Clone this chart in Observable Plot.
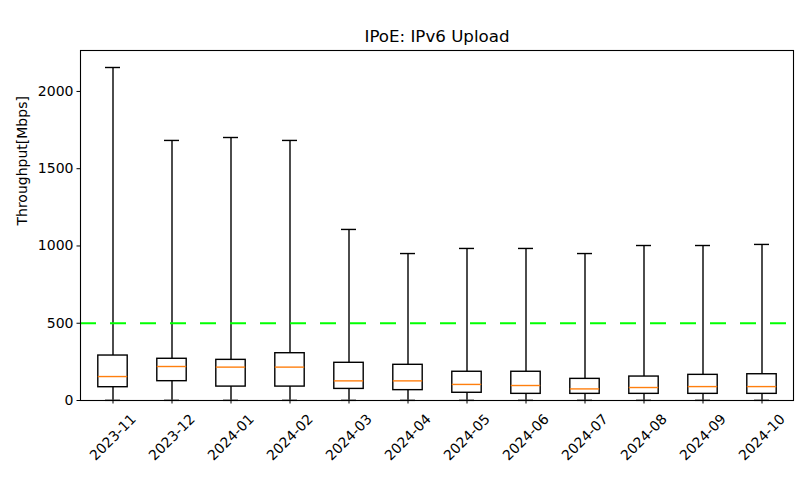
<!DOCTYPE html>
<html>
<head>
<meta charset="utf-8">
<script src="https://cdn.jsdelivr.net/npm/d3@7"></script>
<script src="https://cdn.jsdelivr.net/npm/@observablehq/plot@0.6"></script>
<style>
  html, body { margin: 0; padding: 0; background: white; }
</style>
</head>
<body>
<div id="chart"></div>
<script>
const months = ["2023-11","2023-12","2024-01","2024-02","2024-03","2024-04","2024-05","2024-06","2024-07","2024-08","2024-09","2024-10"];
const whiskerLow  = [1, 1, 1, 1, 1, 1, 1, 1, 1, 1, 1, 1];
const q1          = [86, 125, 90, 90, 75, 67, 50, 43, 43, 43, 43, 43];
const median      = [155, 220, 216, 216, 127, 127, 104, 97, 75, 84, 90, 90];
const q3          = [291, 270, 263, 306, 244, 231, 186, 186, 140, 155, 166, 170];
const whiskerHigh = [2155, 1683, 1702, 1683, 1107, 951, 984, 984, 951, 1003, 1003, 1010];
const yTicks = [0, 500, 1000, 1500, 2000];
const threshold = [500];
const title = "IPoE: IPv6 Upload";
const yLabel = "Throughput[Mbps]";

const data = months.map((m, i) => ({
  month: m, lo: whiskerLow[i], q1: q1[i], med: median[i], q3: q3[i], hi: whiskerHigh[i]
}));

const font = "DejaVu Sans, sans-serif";
const chart = Plot.plot({
  width: 800,
  height: 500,
  marginLeft: 80,
  marginRight: 7,
  marginTop: 50,
  marginBottom: 100,
  style: { fontFamily: font, fontSize: "14px", background: "white", color: "black" },
  x: { type: "band", domain: months, padding: 0 },
  y: { domain: [0, 2265] },
  marks: [
    Plot.ruleX(data, { x: "month", y1: "lo", y2: "q1", stroke: "black", strokeWidth: 1.4 }),
    Plot.ruleX(data, { x: "month", y1: "q3", y2: "hi", stroke: "black", strokeWidth: 1.4 }),
    Plot.tickY(data, { x: "month", y: "lo", stroke: "black", strokeWidth: 1.4, insetLeft: 22, insetRight: 22 }),
    Plot.tickY(data, { x: "month", y: "hi", stroke: "black", strokeWidth: 1.4, insetLeft: 22, insetRight: 22 }),
    Plot.barY(data, { x: "month", y1: "q1", y2: "q3", fill: "white", stroke: "black", strokeWidth: 1.4, insetLeft: 14.8, insetRight: 14.8 }),
    Plot.tickY(data, { x: "month", y: "med", stroke: "#ff7f0e", strokeWidth: 1.4, insetLeft: 14.8, insetRight: 14.8 }),
    Plot.ruleY(threshold, { y: d => d, stroke: "#00ff00", strokeWidth: 2, strokeDasharray: "16,14" }),
    Plot.frame({ stroke: "black", strokeWidth: 1.1 }),
    Plot.axisY({ ticks: yTicks, tickFormat: d3.format("d"), tickSize: 3.5, tickPadding: 3.5, label: null, fontSize: 14, stroke: "black" }),
    Plot.axisX({ tickSize: 3.5, tickFormat: () => "", label: null, stroke: "black" }),
    Plot.text(months, { x: d => d, frameAnchor: "bottom", lineAnchor: "middle", dy: 37, rotate: -45, textAnchor: "middle", fontSize: 14, fill: "black" }),
    Plot.text([title], { frameAnchor: "top", lineAnchor: "middle", dy: -14, fontSize: 16.67, fill: "black" }),
    Plot.text([yLabel], { frameAnchor: "left", lineAnchor: "middle", dx: -58, rotate: -90, fontSize: 14, fill: "black" })
  ]
});
document.getElementById("chart").appendChild(chart);
</script>
</body>
</html>
